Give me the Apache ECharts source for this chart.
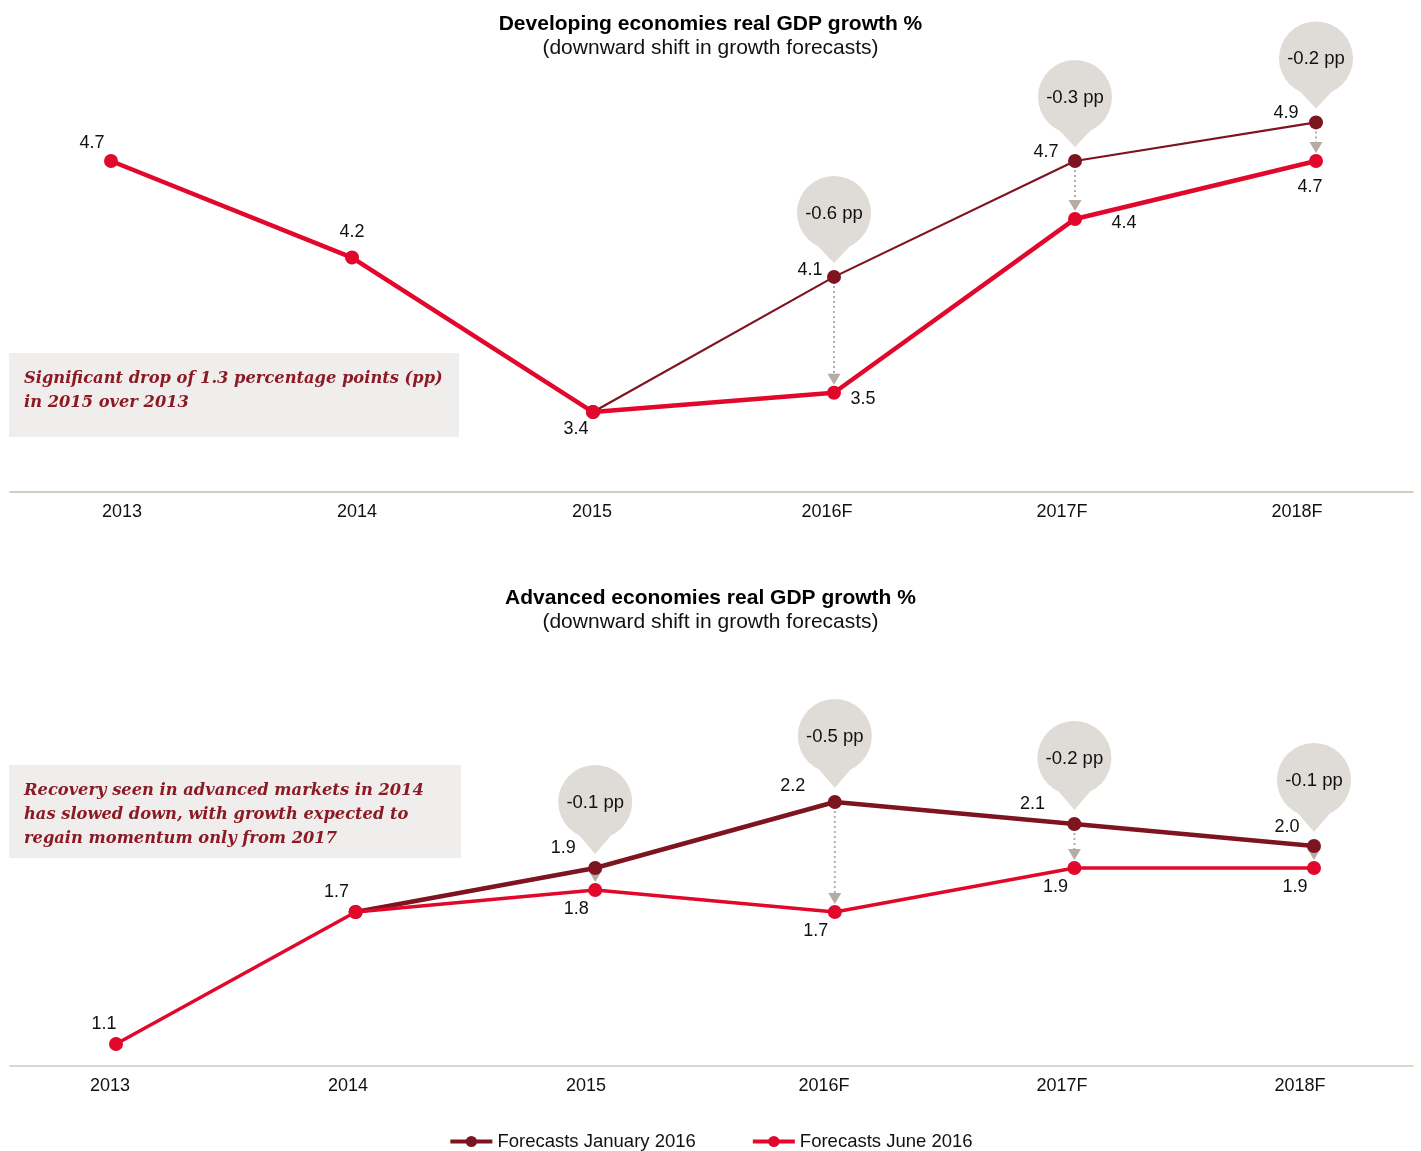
<!DOCTYPE html>
<html>
<head>
<meta charset="utf-8">
<style>
  html, body { margin: 0; padding: 0; background: #fff; }
  #chart { width: 1421px; height: 1151px; }
</style>
<script src="https://cdn.jsdelivr.net/npm/echarts@6/dist/echarts.min.js"></script>
</head>
<body>
<div id="chart"></div>
<script>
// ---- data ----
const categories = ['2013', '2014', '2015', '2016F', '2017F', '2018F'];
const devJan2016  = [null, null, 3.4, 4.1, 4.7, 4.9];
const devJun2016  = [4.7, 4.2, 3.4, 3.5, 4.4, 4.7];
const advJan2016  = [null, 1.7, 1.9, 2.2, 2.1, 2.0];
const advJun2016  = [1.1, 1.7, 1.8, 1.7, 1.9, 1.9];
const seriesNames = ['Forecasts January 2016', 'Forecasts June 2016'];
const titles = [
  ['Developing economies real GDP growth %', '(downward shift in growth forecasts)'],
  ['Advanced economies real GDP growth %', '(downward shift in growth forecasts)']
];
const notes = [
  'Significant drop of 1.3 percentage points (pp)\nin 2015 over 2013',
  'Recovery seen in advanced markets in 2014\nhas slowed down, with growth expected to\nregain momentum only from 2017'
];

// ---- styling (label offsets relative to each point) ----
const devJanOff = [null, null, null, [-24, -7], [-29, -9], [-30, -9]];
const devJunOff = [[-19, -18], [0, -26], [-17, 17], [29, 6], [49, 4], [-6, 26]];
const advJanOff = [null, null, [-32, -20], [-42, -16], [-42, -20], [-27, -19]];
const advJunOff = [[-12, -20], [-19, -20], [-19, 19], [-19, 19], [-19, 19], [-19, 19]];

const FONT = '"Liberation Sans", Arial, Helvetica, sans-serif';
const JAN = '#7e1420';
const JUN = '#e1082c';
const BAL = '#dfdbd7';
const ARW = '#b5aca5';

function pointData(vals, offs) {
  return vals.map((v, i) => {
    if (v == null) return null;
    const o = offs[i];
    return { value: v, label: o ? { show: true, offset: o } : { show: false } };
  });
}

function shiftData(jan, jun) {
  const out = [];
  jan.forEach((v, i) => {
    if (v != null && v !== jun[i]) out.push([i, v, jun[i]]);
  });
  return out;
}

function makeRender(lift) {
  return function (params, api) {
    const x = api.value(0), jan = api.value(1), jun = api.value(2);
    const p1 = api.coord([x, jan]);
    const p2 = api.coord([x, jun]);
    const cx = p1[0];
    const cy = p1[1] - lift;
    const r = 37;
    const tipY = p1[1] - 14;
    const headTip = p2[1] - 8;
    const headTop = headTip - 11;
    const lineStart = p1[1] + 9;
    const children = [];
    if (headTop > lineStart + 2) {
      children.push({ type: 'line', shape: { x1: cx, y1: lineStart, x2: cx, y2: headTop },
        style: { stroke: ARW, lineWidth: 2, lineDash: [2, 3] } });
    }
    children.push({ type: 'polygon', shape: { points: [[cx - 6.5, headTop], [cx + 6.5, headTop], [cx, headTip]] },
      style: { fill: ARW } });
    children.push({ type: 'circle', shape: { cx: cx, cy: cy, r: r }, style: { fill: BAL } });
    children.push({ type: 'polygon', shape: { points: [[cx - 17, cy + 32], [cx + 17, cy + 32], [cx, tipY]] },
      style: { fill: BAL } });
    children.push({ type: 'text', style: { text: (jun - jan).toFixed(1) + ' pp', x: cx, y: cy + 1,
      align: 'center', verticalAlign: 'middle', fontSize: 18.5, fontFamily: FONT, fill: '#111' } });
    return { type: 'group', children: children };
  };
}

const labelStyle = { show: true, position: 'inside', fontSize: 18, fontFamily: FONT, color: '#111',
  formatter: p => Number(p.value).toFixed(1) };

function hiddenY(idx, min, max) {
  return { type: 'value', gridIndex: idx, min: min, max: max, show: false };
}

const axisLabelStyle = { margin: 11, fontSize: 18, fontFamily: FONT, color: '#111' };
const titleStyle = { fontFamily: FONT, fontSize: 21, fontWeight: 'bold', color: '#000' };
const subStyle = { fontFamily: FONT, fontSize: 21, color: '#111' };
const noteStyle = { fontFamily: '"DejaVu Serif", serif', fontStyle: 'italic', fontWeight: 'bold',
  fontSize: 16.3, lineHeight: 24, fill: '#8c1a25' };

const chart = echarts.init(document.getElementById('chart'), null, { renderer: 'canvas' });

const option = {
  backgroundColor: '#fff',
  animation: false,
  title: [
    { text: titles[0][0], subtext: titles[0][1], left: 'center', top: 9, itemGap: 3,
      textStyle: titleStyle, subtextStyle: subStyle },
    { text: titles[1][0], subtext: titles[1][1], left: 'center', top: 583, itemGap: 3,
      textStyle: titleStyle, subtextStyle: subStyle }
  ],
  legend: {
    data: seriesNames, top: 1127, left: 'center', itemWidth: 42, itemHeight: 14, itemGap: 55,
    textStyle: { fontFamily: FONT, fontSize: 18.5, color: '#111' },
    lineStyle: { width: 4 }
  },
  grid: [
    { left: 111, width: 1205, top: 10, height: 482 },
    { left: 122, width: 1175, top: 10, height: 482 },
    { left: 10, width: 1403, top: 10, height: 482 },
    { left: 116, width: 1198, top: 626, height: 440 },
    { left: 110, width: 1190, top: 626, height: 440 },
    { left: 10, width: 1403, top: 626, height: 440 }
  ],
  xAxis: [
    { type: 'category', gridIndex: 0, data: categories, boundaryGap: false, show: false },
    { type: 'category', gridIndex: 1, data: categories, boundaryGap: false,
      axisLine: { show: false }, axisTick: { show: false }, axisLabel: axisLabelStyle },
    { type: 'category', gridIndex: 2, data: categories, boundaryGap: true,
      axisLine: { show: true, lineStyle: { color: '#c5b9ae', width: 1.5 } },
      axisTick: { show: false }, axisLabel: { show: false } },
    { type: 'category', gridIndex: 3, data: categories, boundaryGap: false, show: false },
    { type: 'category', gridIndex: 4, data: categories, boundaryGap: false,
      axisLine: { show: false }, axisTick: { show: false }, axisLabel: axisLabelStyle },
    { type: 'category', gridIndex: 5, data: categories, boundaryGap: true,
      axisLine: { show: true, lineStyle: { color: '#ddd7d2', width: 2 } },
      axisTick: { show: false }, axisLabel: { show: false } }
  ],
  yAxis: [
    hiddenY(0, 2.986, 5.482), hiddenY(1, 2.986, 5.482), hiddenY(2, 2.986, 5.482),
    hiddenY(3, 1.0, 3.0), hiddenY(4, 1.0, 3.0), hiddenY(5, 1.0, 3.0)
  ],
  series: [
    { type: 'custom', xAxisIndex: 0, yAxisIndex: 0, z: 1, silent: true,
      data: shiftData(devJan2016, devJun2016), renderItem: makeRender(64), encode: { x: 0, y: [1, 2] } },
    { type: 'custom', xAxisIndex: 3, yAxisIndex: 3, z: 1, silent: true,
      data: shiftData(advJan2016, advJun2016), renderItem: makeRender(66), encode: { x: 0, y: [1, 2] } },
    { name: seriesNames[0], type: 'line', xAxisIndex: 3, yAxisIndex: 3, z: 3,
      data: pointData(advJan2016, advJanOff), symbol: 'circle', symbolSize: 14,
      lineStyle: { color: JAN, width: 4.5 }, itemStyle: { color: JAN }, label: labelStyle },
    { name: seriesNames[1], type: 'line', xAxisIndex: 3, yAxisIndex: 3, z: 4,
      data: pointData(advJun2016, advJunOff), symbol: 'circle', symbolSize: 14,
      lineStyle: { color: JUN, width: 3.5 }, itemStyle: { color: JUN }, label: labelStyle },
    { name: seriesNames[0], type: 'line', xAxisIndex: 0, yAxisIndex: 0, z: 3,
      data: pointData(devJan2016, devJanOff), symbol: 'circle', symbolSize: 14,
      lineStyle: { color: JAN, width: 2.2 }, itemStyle: { color: JAN }, label: labelStyle },
    { name: seriesNames[1], type: 'line', xAxisIndex: 0, yAxisIndex: 0, z: 4,
      data: pointData(devJun2016, devJunOff), symbol: 'circle', symbolSize: 14,
      lineStyle: { color: JUN, width: 4.5 }, itemStyle: { color: JUN }, label: labelStyle }
  ],
  graphic: [
    { type: 'group', left: 9, top: 353, children: [
      { type: 'rect', shape: { x: 0, y: 0, width: 450, height: 84 }, style: { fill: '#f0eeec' } },
      { type: 'text', x: 15, y: 14, style: Object.assign({ text: notes[0] }, noteStyle) }
    ] },
    { type: 'group', left: 9, top: 765, children: [
      { type: 'rect', shape: { x: 0, y: 0, width: 452, height: 93 }, style: { fill: '#f0eeec' } },
      { type: 'text', x: 15, y: 14, style: Object.assign({ text: notes[1] }, noteStyle) }
    ] }
  ]
};

chart.setOption(option);
</script>
</body>
</html>
